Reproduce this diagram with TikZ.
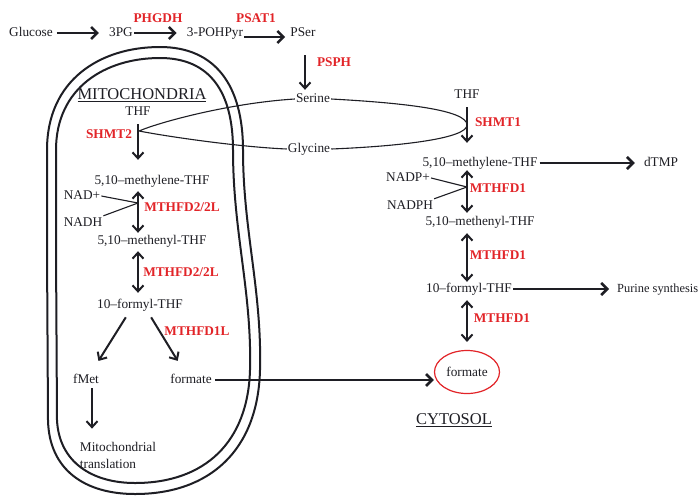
\documentclass[tikz,border=0pt]{standalone}
\usepackage{fontspec}
\setmainfont{Liberation Serif}
\usetikzlibrary{arrows.meta,shapes.geometric}
\definecolor{enz}{RGB}{226,36,40}
\definecolor{ink}{RGB}{30,30,36}
\begin{document}
\begin{tikzpicture}[x=1pt,y=-1pt,
  lbl/.style={font=\fontsize{13.3}{15}\selectfont, text=ink, inner sep=1pt, text height=9pt, text depth=3pt},
  enzyme/.style={font=\fontsize{13.3}{15}\selectfont\bfseries, text=enz, inner sep=1pt},
  arr/.style={draw=ink, line width=2pt, -{Straight Barb[length=6pt,width=11pt]}},
  bigarr/.style={draw=ink, line width=2.6pt, -{Straight Barb[length=6pt,width=12pt]}},
  darr/.style={draw=ink, line width=2pt, {Straight Barb[length=6pt,width=11pt]}-{Straight Barb[length=6pt,width=11pt]}},
  link/.style={draw=ink, line width=1.1pt},
  membrane/.style={draw=ink, line width=2pt},
  title/.style={font=\fontsize{16.5}{18}\selectfont, text=ink, inner sep=1pt}]
\useasboundingbox[fill=white] (0,0) rectangle (698,496);

% mitochondrial membranes
\draw[membrane] (47,250) -- (47,150) .. controls (47,80) and (100,47) .. (160,47)
  .. controls (215,47) and (243,85) .. (243,150)
  .. controls (243,230) and (262,290) .. (260,370)
  .. controls (258,450) and (210,494) .. (135,494)
  .. controls (85,494) and (49,470) .. (48,420) -- cycle;
\draw[membrane] (56,250) -- (56,150) .. controls (56,88) and (105,58) .. (160,58)
  .. controls (210,58) and (233,92) .. (233,150)
  .. controls (233,232) and (252,292) .. (250,370)
  .. controls (248,442) and (205,483) .. (135,483)
  .. controls (92,483) and (59,462) .. (57,420) -- cycle;

% top row
\node[lbl] (glucose) at (31,33) {Glucose};
\node[lbl] (pg) at (121,33) {3PG};
\node[lbl] (pohpyr) at (215,33) {3-POHPyr};
\node[lbl] (pser) at (303,33) {PSer};
\node[enzyme] (phgdh) at (158,18) {PHGDH};
\node[enzyme] (psat) at (256,18) {PSAT1};
\node[enzyme] (psph) at (334,62) {PSPH};
\node[lbl] (serine) at (313,99) {Serine};
\node[lbl] (glycine) at (309,149) {Glycine};

\draw[bigarr, shorten <=3pt, shorten >=9pt] (glucose) -- (pg);
\draw[bigarr, shorten <=0pt, shorten >=9pt] (pg) -- (pohpyr);
\coordinate (p1) at ([yshift=-4pt]pohpyr.east);
\coordinate (p2) at ([yshift=-4pt]pser.west);
\draw[bigarr, shorten >=4pt] (p1) -- (p2);
\coordinate (p3) at ([xshift=2pt]pser.south);
\draw[arr, shorten <=15pt, shorten >=2pt] (p3) -- (p3 |- serine.north);

% mitochondria
\node[title] (mito) at (142,95) {\underline{MITOCHONDRIA}};
\node[lbl] (thfm) at (138,112) {THF};
\node[enzyme] (shmt2) at (109,134) {SHMT2};
\node[lbl] (methm) at (152,181) {5,10--methylene-THF};
\node[lbl] (nad) at (82,196) {NAD+};
\node[lbl] (nadh) at (83,223) {NADH};
\node[enzyme] (mthfd2a) at (182,207) {MTHFD2/2L};
\node[lbl] (menm) at (152,241) {5,10--methenyl-THF};
\node[enzyme] (mthfd2b) at (181,272) {MTHFD2/2L};
\node[lbl] (formm) at (140,305) {10--formyl-THF};
\node[enzyme] (mthfd1l) at (197,331) {MTHFD1L};
\node[lbl] (fmet) at (86,380) {fMet};
\node[lbl] (formatem) at (191,380) {formate};
\node[font=\fontsize{13.3}{17}\selectfont, text=ink, align=left, inner sep=1pt] (mtrans) at (118,455) {Mitochondrial\\translation};

\draw[arr, shorten <=5pt, shorten >=14pt] (thfm.south) -- (thfm |- methm.north);
\draw[darr, shorten <=3pt, shorten >=1pt] (thfm |- methm.south) -- (thfm |- menm.north);
\draw[darr, shorten <=3pt, shorten >=5pt] (thfm |- menm.south) -- (thfm |- formm.north);
\coordinate (jm) at (138,203);
\draw[link] (nad.east) -- (jm);
\draw[link] (nadh.north east) -- (jm);
\coordinate (f1) at ([xshift=-11pt]formm.south);
\coordinate (f2) at ([xshift=5pt]fmet.north);
\coordinate (f3) at ([xshift=8pt]formm.south);
\coordinate (f4) at ([xshift=-6pt]formatem.north);
\draw[arr, shorten <=6pt, shorten >=14pt] (f1) -- (f2);
\draw[arr, shorten <=6pt, shorten >=14pt] (f3) -- (f4);
\coordinate (f5) at ([xshift=6pt]fmet.south);
\draw[arr, shorten <=1pt, shorten >=12pt] (f5) -- (f5 |- mtrans.north);

% cytosol
\node[lbl] (thfc) at (467,95) {THF};
\node[enzyme] (shmt1) at (498,122) {SHMT1};
\node[lbl] (methc) at (480,163) {5,10--methylene-THF};
\node[lbl] (dtmp) at (661,163) {dTMP};
\node[lbl] (nadp) at (408,178) {NADP+};
\node[lbl] (nadph) at (410,206) {NADPH};
\node[enzyme] (mthfd1a) at (498,188) {MTHFD1};
\node[lbl] (menc) at (480,222) {5,10--methenyl-THF};
\node[enzyme] (mthfd1b) at (498,255) {MTHFD1};
\node[lbl] (formc) at (469,289) {10--formyl-THF};
\node[lbl, font=\fontsize{12.4}{15}\selectfont, anchor=west] (purine) at (616,289) {Purine synthesis};
\node[enzyme] (mthfd1c) at (502,318) {MTHFD1};
\node[draw=enz, line width=1.2pt, ellipse, minimum width=65pt, minimum height=43pt, inner sep=0pt,
      font=\fontsize{13.3}{15}\selectfont, text=ink] (formatec) at (467,372) {formate};
\node[title] (cytosol) at (454,420) {\underline{CYTOSOL}};

\draw[arr, shorten <=5pt, shorten >=13pt] (thfc.south) -- (thfc |- methc.north);
\draw[darr, shorten <=0pt, shorten >=2pt] (thfc |- methc.south) -- (thfc |- menc.north);
\draw[darr, shorten <=4pt, shorten >=0pt] (thfc |- menc.south) -- (thfc |- formc.north);
\draw[darr, shorten <=4pt, shorten >=8pt] (thfc |- formc.south) -- (thfc |- formatec.north);
\draw[bigarr, shorten <=1pt, shorten >=8pt] (methc) -- (dtmp);
\draw[bigarr, shorten <=0pt, shorten >=7pt] (formc) -- (purine);
\coordinate (jc) at (467,187);
\draw[link] (nadp.east) -- (jc);
\draw[link] (nadph.north east) -- (jc);

% formate export
\draw[bigarr, shorten <=2pt] (formatem.east) -- (formatem.east -| formatec.west);

% serine / glycine exchange
\coordinate (lensL) at (139,131);
\coordinate (lensR) at (467,125);
\draw[link] (serine.west) .. controls (230,103) and (160,122) .. (lensL)
  .. controls (170,137) and (240,147) .. (glycine.west);
\draw[link] (serine.east) .. controls (405,103) and (467,110) .. (lensR)
  .. controls (467,138) and (405,146) .. (glycine.east);
\end{tikzpicture}
\end{document}
